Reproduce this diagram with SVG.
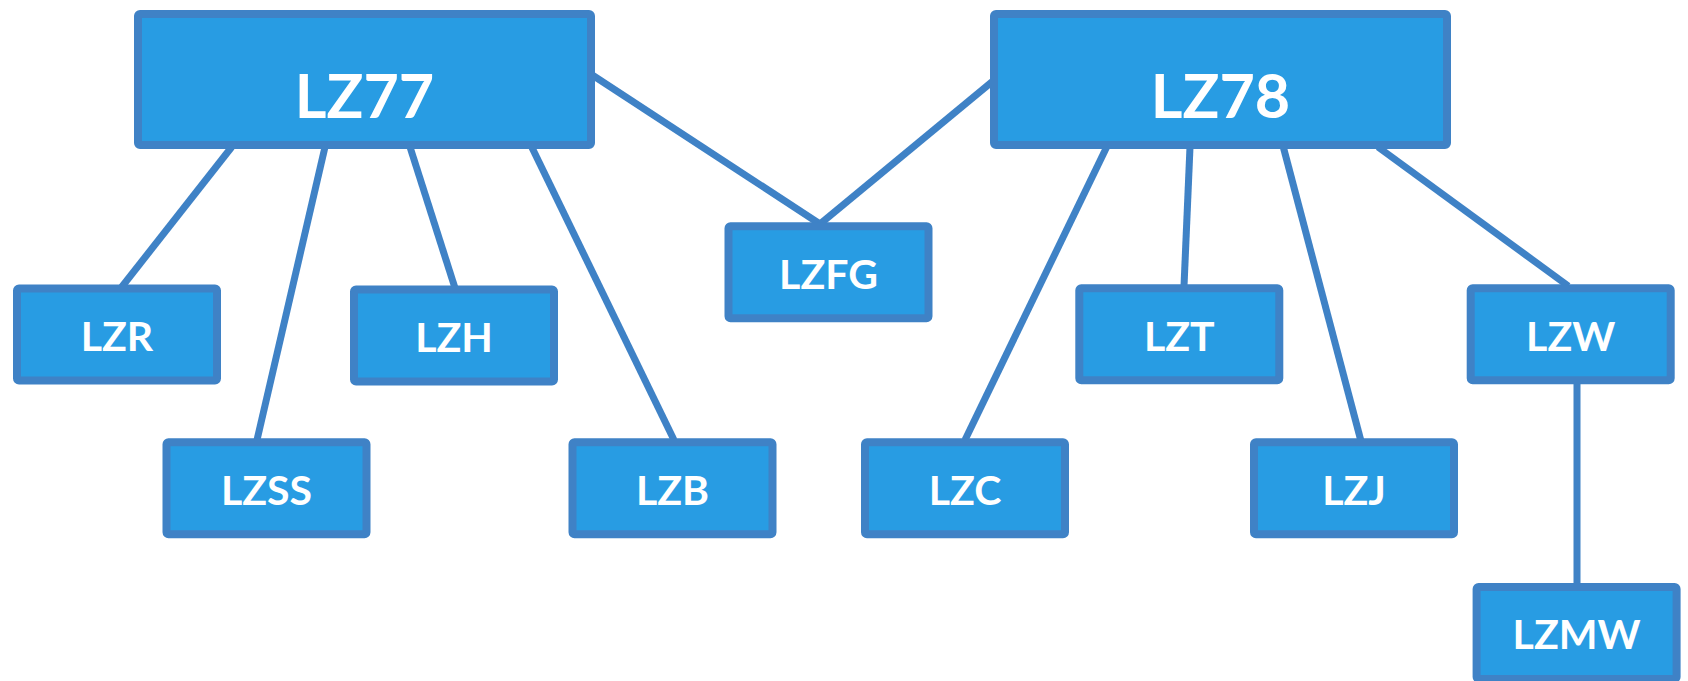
<svg xmlns="http://www.w3.org/2000/svg" width="1688" height="681" viewBox="0 0 1688 681">
<style>
.box{fill:#289CE3;stroke:#3F82C6;stroke-width:8;}
.lbl{fill:#FFFFFF;font-family:Lato,"Open Sans","Noto Sans",sans-serif;font-weight:bold;text-anchor:middle;}
.big{font-size:61px;}
.sm{font-size:41px;}
.conn line{stroke:#3F82C6;stroke-width:7;stroke-linecap:butt;}
</style>
<rect width="1688" height="681" fill="#FFFFFF"/>
<g id="connectors" class="conn">
<line x1="231.7" y1="147" x2="121.7" y2="287"/>
<line x1="325" y1="147" x2="257" y2="440"/>
<line x1="410" y1="147" x2="455" y2="288"/>
<line x1="531.7" y1="147" x2="674" y2="440"/>
<line x1="593" y1="75.5" x2="820" y2="224"/>
<line x1="993" y1="81" x2="820" y2="224"/>
<line x1="1106.7" y1="147" x2="965" y2="440"/>
<line x1="1190" y1="147" x2="1184" y2="286"/>
<line x1="1283.3" y1="147" x2="1360.7" y2="440"/>
<line x1="1378" y1="147" x2="1568.3" y2="286"/>
<line x1="1577" y1="383" x2="1577" y2="585"/>
</g>
<g id="LZ77"><rect class="box" x="138" y="14" width="453" height="131" rx="2"/><text class="lbl big" x="364.5" y="118">LZ77</text></g>
<g id="LZ78"><rect class="box" x="994" y="14" width="453" height="131" rx="2"/><text class="lbl big" x="1220.5" y="118">LZ78</text></g>
<g id="LZR"><rect class="box" x="17" y="288.5" width="200" height="92" rx="2"/><text class="lbl sm" x="117" y="351">LZR</text></g>
<g id="LZH"><rect class="box" x="354" y="289.5" width="200" height="92" rx="2"/><text class="lbl sm" x="454" y="352">LZH</text></g>
<g id="LZSS"><rect class="box" x="166.5" y="442.3" width="200" height="92" rx="2"/><text class="lbl sm" x="266.5" y="504.7">LZSS</text></g>
<g id="LZB"><rect class="box" x="572.5" y="442.3" width="200" height="92" rx="2"/><text class="lbl sm" x="672.5" y="504.7">LZB</text></g>
<g id="LZFG"><rect class="box" x="728.5" y="226.3" width="200" height="92" rx="2"/><text class="lbl sm" x="828.5" y="288.7">LZFG</text></g>
<g id="LZC"><rect class="box" x="865" y="442.3" width="200" height="92" rx="2"/><text class="lbl sm" x="965" y="504.7">LZC</text></g>
<g id="LZT"><rect class="box" x="1079.3" y="288.3" width="200" height="92" rx="2"/><text class="lbl sm" x="1179.3" y="350.7">LZT</text></g>
<g id="LZJ"><rect class="box" x="1254" y="442.3" width="200" height="92" rx="2"/><text class="lbl sm" x="1354" y="504.7">LZJ</text></g>
<g id="LZW"><rect class="box" x="1470.7" y="288.3" width="200" height="92" rx="2"/><text class="lbl sm" x="1570.7" y="350.7">LZW</text></g>
<g id="LZMW"><rect class="box" x="1476.6" y="587" width="200" height="92" rx="2"/><text class="lbl sm" x="1576.6" y="649.4">LZMW</text></g>
</svg>
